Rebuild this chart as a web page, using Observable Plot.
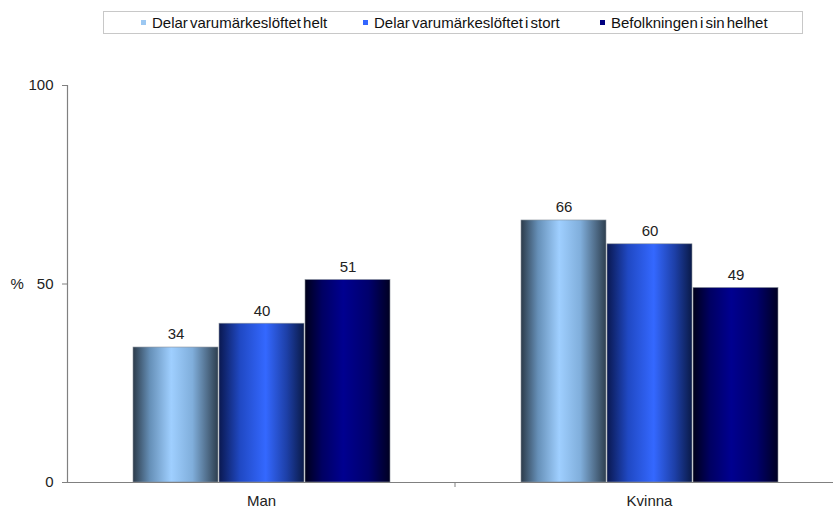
<!DOCTYPE html>
<html><head><meta charset="utf-8">
<script src="https://cdn.jsdelivr.net/npm/d3@7"></script>
<script src="https://cdn.jsdelivr.net/npm/@observablehq/plot@0.6"></script>
<style>
body{margin:0;background:#fff;font-family:"Liberation Sans",Arial,sans-serif;}
#wrap{position:relative;width:833px;overflow:hidden;}
#legend{position:relative;height:40px;}
#legend .box{position:absolute;left:103px;top:11px;width:700px;height:23px;border:1px solid #c8c8c8;box-sizing:border-box;}
#legend .item{position:absolute;top:14px;font-size:15px;line-height:17px;color:#111;white-space:nowrap;word-spacing:-2px;}
#legend .sw{display:inline-block;width:5px;height:5px;margin-right:6px;vertical-align:3px;}
svg{display:block;overflow:visible;}
</style></head>
<body>
<div id="wrap">
  <div id="legend"><div class="box"></div></div>
  <div id="chart"></div>
</div>
<script>
const categories = ["Man", "Kvinna"];
const series = ["Delar varumärkeslöftet helt", "Delar varumärkeslöftet i stort", "Befolkningen i sin helhet"];
const valuesHelt = [34, 66];
const valuesStort = [40, 60];
const valuesBefolkning = [51, 49];
const yTicks = [0, 50, 100];
const yLabel = "%";
const legendSwatches = ["#9cc8f2", "#3366ff", "#000080"];
const legendLeft = [141, 363, 600];

const seriesValues = [valuesHelt, valuesStort, valuesBefolkning];
const rows = [];
categories.forEach((c, ci) => series.forEach((s, si) => rows.push({category: c, series: s, value: seriesValues[si][ci]})));

// legend
const leg = document.getElementById("legend");
series.forEach((s, i) => {
  const it = document.createElement("div");
  it.className = "item";
  it.style.left = legendLeft[i] + "px";
  const sw = document.createElement("span");
  sw.className = "sw";
  sw.style.background = legendSwatches[i];
  it.appendChild(sw);
  it.appendChild(document.createTextNode(s));
  leg.appendChild(it);
});

const gradIds = ["g0", "g1", "g2"];
const chart = Plot.plot({
  width: 833,
  height: 470,
  marginLeft: 67,
  marginRight: -10,
  marginTop: 45,
  marginBottom: 28,
  style: {fontFamily: "'Liberation Sans', Arial, sans-serif", fontSize: "15px", color: "#222", background: "transparent", overflow: "visible"},
  fx: {domain: categories, padding: 0, label: null},
  x: {domain: series, paddingInner: 0.012, paddingOuter: 0.755, axis: null},
  y: {domain: [0, 100], label: null},
  color: {domain: series, range: gradIds.map(id => `url(#${id})`)},
  marks: [
    Plot.barY(rows, {fx: "category", x: "series", y: "value", fill: "series", stroke: "#8a929c", strokeWidth: 0.6}),
    Plot.text(rows, {fx: "category", x: "series", y: "value", text: d => String(d.value), dy: -13, fill: "#222", fontSize: 15}),
    Plot.ruleY([0], {stroke: "#808080", strokeWidth: 1.2}),
    Plot.axisY({ticks: yTicks, tickSize: 5, tickPadding: 9, stroke: "#808080", fill: "#222", fontSize: 15, label: null}),
    Plot.frame({anchor: "left", facet: "super", stroke: "#808080", strokeWidth: 1.2}),
    Plot.text([{category: categories[0], y: yTicks[1], label: yLabel}], {fx: "category", y: "y", text: "label", frameAnchor: "left", dx: -57, textAnchor: "start", fill: "#222", fontSize: 15}),
    Plot.axisFx({anchor: "bottom", tickSize: 0, tickPadding: 13, fill: "#222", fontSize: 15, label: null})
  ]
});
document.getElementById("chart").appendChild(chart);

// gradients for the bars
const svg = d3.select(chart);
const defs = svg.insert("defs", ":first-child");
const gradStops = [
  [[0, "#2c3b4a"], [0.2, "#6690b8"], [0.45, "#9fcfff"], [0.7, "#80aedb"], [1, "#2e3f50"]],
  [[0, "#0a1850"], [0.25, "#2049c4"], [0.55, "#3468ff"], [0.8, "#1d3fa6"], [1, "#0a1a48"]],
  [[0, "#00001a"], [0.2, "#000062"], [0.45, "#000090"], [0.75, "#00006c"], [1, "#000022"]]
];
gradIds.forEach((id, i) => {
  const g = defs.append("linearGradient").attr("id", id).attr("x1", 0).attr("x2", 1).attr("y1", 0).attr("y2", 0);
  gradStops[i].forEach(([o, c]) => g.append("stop").attr("offset", o).attr("stop-color", c));
});

// category separator tick on the x axis
const fx = chart.scale("fx");
const yS = chart.scale("y");
const sepX = fx.apply(categories[1]);
svg.append("line")
  .attr("x1", sepX).attr("x2", sepX)
  .attr("y1", yS.apply(0)).attr("y2", yS.apply(0) + 5)
  .attr("stroke", "#808080");
</script>
</body></html>
